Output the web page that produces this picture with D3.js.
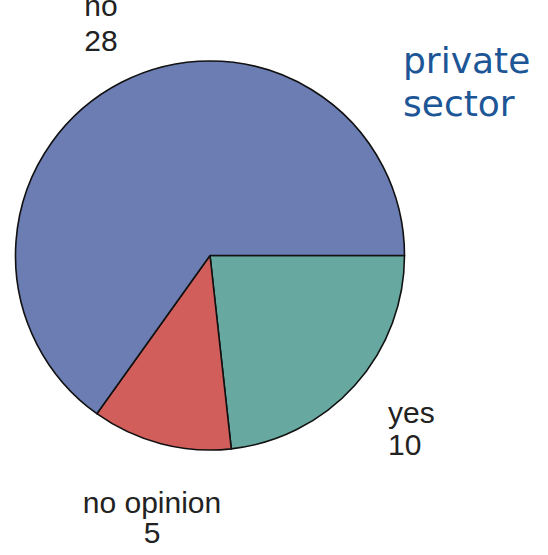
<!DOCTYPE html>
<html>
<head>
<meta charset="utf-8">
<script src="https://cdn.jsdelivr.net/npm/d3@7"></script>
<style>
  html, body { margin: 0; padding: 0; background: #fff; }
  svg { display: block; }
</style>
</head>
<body>
<svg id="chart" width="548" height="555"></svg>
<script>
// Survey answers, private sector
const categories = ["yes", "no opinion", "no"];
const counts = [10, 5, 28];
const colors = ["#67A9A0", "#D25E5B", "#6B7DB3"];
const title = ["private", "sector"];

const svg = d3.select("#chart");
const cx = 210, cy = 255.5, r = 194.5;

const data = categories.map((c, i) => ({ label: c, value: counts[i], color: colors[i] }));

// slices run clockwise, starting at 3 o'clock
const pie = d3.pie().value(d => d.value).sort(null)
  .startAngle(Math.PI / 2).endAngle(Math.PI / 2 + 2 * Math.PI);
const arcs = pie(data);
const arc = d3.arc().innerRadius(0).outerRadius(r);

const g = svg.append("g").attr("transform", `translate(${cx},${cy})`);
g.selectAll("path").data(arcs).join("path")
  .attr("d", arc)
  .attr("fill", d => d.data.color)
  .attr("stroke", "#111")
  .attr("stroke-width", 1.6)
  .attr("stroke-linejoin", "round");

// label placement outside the rim: name on top, count below
const labelPos = {
  "yes": { x: 388, y: 423, dy: 32, anchor: "start" },
  "no opinion": { x: 152, y: 513, dy: 30, anchor: "middle" },
  "no": { x: 101, y: 16, dy: 35, anchor: "middle" }
};
const lab = svg.append("g")
  .attr("font-family", "Liberation Sans, Arial, sans-serif")
  .attr("font-size", 30)
  .attr("fill", "#222");
arcs.forEach(a => {
  const p = labelPos[a.data.label];
  const t = lab.append("text")
    .attr("x", p.x).attr("y", p.y)
    .attr("text-anchor", p.anchor);
  t.append("tspan").attr("x", p.x).text(a.data.label);
  t.append("tspan").attr("x", p.x).attr("dy", p.dy).text(a.data.value);
});

// title in the corner
svg.append("text")
  .attr("font-family", "DejaVu Sans, Verdana, sans-serif")
  .attr("font-size", 36)
  .attr("fill", "#1D5696")
  .selectAll("tspan").data(title).join("tspan")
  .attr("x", 403)
  .attr("y", (d, i) => 73 + i * 43)
  .text(d => d);
</script>
</body>
</html>
